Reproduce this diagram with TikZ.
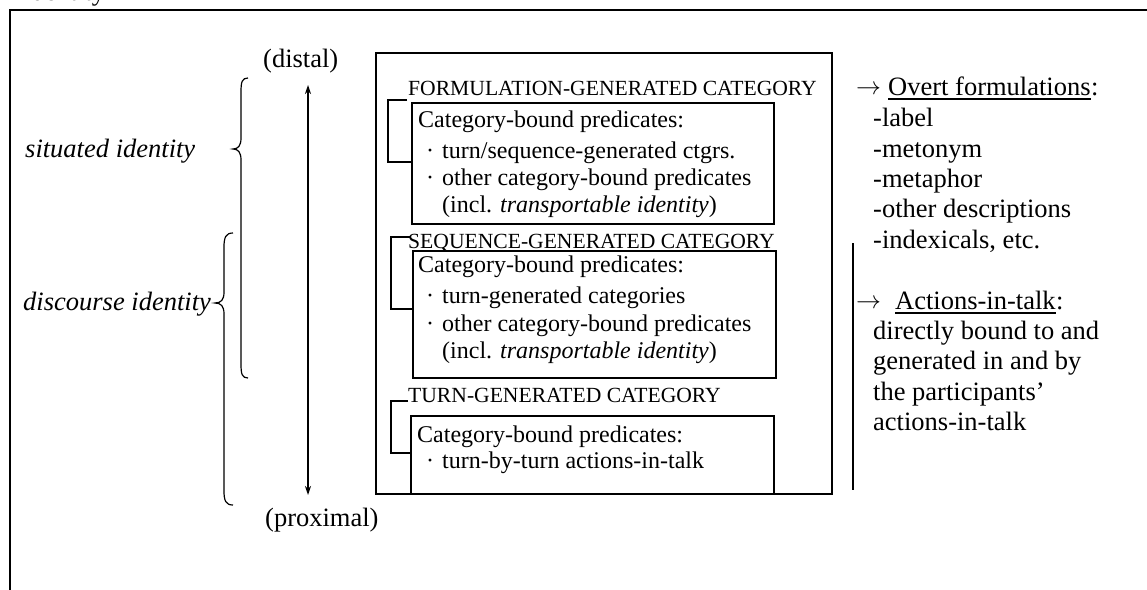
\documentclass[tikz,border=0pt]{standalone}
\usepackage{fontspec}
\setmainfont{Liberation Serif}
\usetikzlibrary{arrows.meta}
\tikzset{
  big/.style={inner sep=0pt, anchor=base west, font=\fontsize{26.5}{30}\selectfont},
  body/.style={inner sep=0pt, anchor=base west, font=\fontsize{24}{28}\selectfont},
  ttl/.style={inner sep=0pt, anchor=base west, font=\fontsize{21.6}{26}\selectfont},
  arrowglyph/.style={inner sep=0pt, anchor=base west, font=\fontsize{24}{30}\selectfont},
  boxline/.style={line width=1.3pt},
  mainline/.style={line width=1.6pt},
  bracel/.style={line width=1.2pt},
  dblarrow/.style={line width=1.3pt, {Stealth[length=9pt,width=6pt]}-{Stealth[length=9pt,width=6pt]}},
}
\newcommand{\bul}{\makebox[24pt][c]{·}}
\begin{document}
\begin{tikzpicture}[x=1pt,y=-1pt]
\useasboundingbox (0,0) rectangle (1147,589);
\clip (0,0) rectangle (1147,589);
% cut-off heading and outer frame
\node[big] (ident) at (24,1) {identity};
\draw[line width=2pt] (10,600) -- (10,10) -- (1160,10);
% left labels
\node[big] (distal) at (263,67) {(distal)};
\node[big] (proximal) at (265,526) {(proximal)};
\node[big] (situated) at (25,157) {\itshape situated identity};
\node[big] (discourse) at (23,310) {\itshape discourse identity};
% braces
\draw[bracel] (248,78) .. controls (242,78) and (241,82) .. (241,92) -- (241,138)
  .. controls (241,146) and (238,149) .. (233,149)
  .. controls (238,149) and (241,152) .. (241,160) -- (241,364)
  .. controls (241,374) and (242,378) .. (248,378);
\draw[bracel] (233,233) .. controls (226,233) and (224,237) .. (224,247) -- (224,292)
  .. controls (224,300) and (221,303) .. (215,303)
  .. controls (221,303) and (224,306) .. (224,314) -- (224,491)
  .. controls (224,501) and (226,505) .. (233,505);
% distal/proximal arrow
\coordinate (dtop) at (308,85);
\coordinate (dbot) at (308,495);
\draw[dblarrow] (dtop) -- (dbot);
% main box
\draw[mainline] (376,53) rectangle (832,494);
% formulation-generated
\node[ttl] (t1) at (408,95) {FORMULATION-GENERATED CATEGORY};
\draw[boxline] (412,103) rectangle (774,224);
\draw[boxline] (407,100) -- (388,100) -- (388,162) -- (412,162);
\node[body] (b1a) at (418,127) {Category-bound predicates:};
\node[body] (b1b) at (418,158) {\bul turn/sequence-generated ctgrs.};
\node[body] (b1c) at (418,185) {\bul other category-bound predicates};
\node[body] (b1d) at (442,212) {(incl. \textit{transportable identity})};
% sequence-generated
\node[ttl] (t2) at (408,248) {SEQUENCE-GENERATED CATEGORY};
\draw[boxline] (413,251) rectangle (776,378);
\draw[boxline] (410,237) -- (391,237) -- (391,309) -- (413,309);
\node[body] (b2a) at (418,272) {Category-bound predicates:};
\node[body] (b2b) at (418,303) {\bul turn-generated categories};
\node[body] (b2c) at (418,331) {\bul other category-bound predicates};
\node[body] (b2d) at (442,358) {(incl. \textit{transportable identity})};
% turn-generated
\node[ttl] (t3) at (408,402) {TURN-GENERATED CATEGORY};
\draw[boxline] (411,494) -- (411,416) -- (774,416) -- (774,494);
\draw[boxline] (408,401) -- (391,401) -- (391,453) -- (411,453);
\node[body] (b3a) at (417,442) {Category-bound predicates:};
\node[body] (b3b) at (418,468) {\bul turn-by-turn actions-in-talk};
% right side
\node[arrowglyph] (arr1) at (856,94) {$\rightarrow$};
\node[big] (ov) at (888,95) {Overt formulations};
\node[big, anchor=base west] (ovc) at (ov.base east) {:};
\draw[line width=1.4pt] ([yshift=-4pt]ov.base west) -- ([yshift=-4pt]ov.base east);
\node[big] (r1) at (873,126) {-label};
\node[big] (r2) at (873,157) {-metonym};
\node[big] (r3) at (873,187) {-metaphor};
\node[big] (r4) at (873,217) {-other descriptions};
\node[big] (r5) at (873,248) {-indexicals, etc.};
\coordinate (vtop) at (853,243);
\coordinate (vbot) at (853,490);
\draw[line width=1.4pt] (vtop) -- (vbot);
\node[arrowglyph] (arr2) at (856,308) {$\rightarrow$};
\node[big] (act) at (895,309) {Actions-in-talk};
\node[big, anchor=base west] (actc) at (act.base east) {:};
\draw[line width=1.4pt] ([yshift=-4pt]act.base west) -- ([yshift=-4pt]act.base east);
\node[big] (s1) at (873,339) {directly bound to and};
\node[big] (s2) at (873,369) {generated in and by};
\node[big] (s3) at (873,400) {the participants’};
\node[big] (s4) at (873,430) {actions-in-talk};
\end{tikzpicture}
\end{document}
